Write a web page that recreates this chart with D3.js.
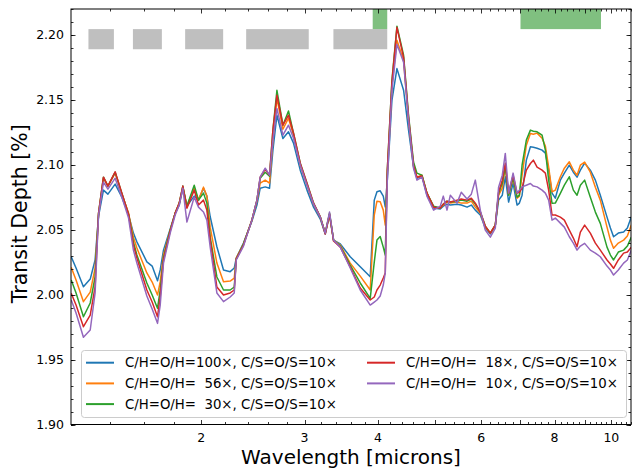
<!DOCTYPE html>
<html lang="en">
<head>
<meta charset="utf-8">
<title>Transit depth spectra</title>
<script src="https://d3js.org/d3.v7.min.js"></script>
<style type="text/css">
    body { margin: 0; background: #fff; }
    text { font-family: "DejaVu Sans", sans-serif; fill: #000; }
</style>
</head>
<body>
<script type="text/javascript">
// wavelength grid (microns), shared by all five models
var wavelength = [1.201,1.224,1.260,1.294,1.319,1.337,1.363,1.387,1.427,1.465,
    1.504,1.533,1.554,1.616,1.650,1.685,1.703,1.725,1.771,1.806,
    1.835,1.861,1.891,1.946,1.979,2.018,2.045,2.072,2.127,2.183,
    2.241,2.277,2.295,2.361,2.440,2.489,2.521,2.571,2.615,2.650,
    2.692,2.756,2.817,2.873,2.950,3.029,3.108,3.191,3.254,3.309,
    3.362,3.452,3.589,3.733,3.882,3.944,3.986,4.037,4.086,4.118,
    4.151,4.227,4.311,4.425,4.512,4.601,4.663,4.756,4.850,4.978,
    5.110,5.171,5.247,5.316,5.457,5.549,5.676,5.772,5.863,5.979,
    6.097,6.219,6.342,6.424,6.518,6.595,6.682,6.800,6.907,6.970,
    7.044,7.163,7.278,7.363,7.471,7.619,7.718,7.818,7.923,8.025,
    8.185,8.315,8.478,8.614,8.739,8.854,9.004,9.207,9.391,9.575,
    9.830,9.962,10.086,10.276,10.491,10.647,10.815];

// transit depth (%) for each metallicity
var depth100 = [2.0292,2.0205,2.0061,2.0120,2.0267,2.0605,2.0805,2.0774,2.0851,2.0751,
    2.0613,2.0474,2.0407,2.0253,2.0220,2.0107,2.0190,2.0343,2.0505,2.0628,
    2.0690,2.0820,2.0682,2.0759,2.0728,2.0820,2.0759,2.0600,2.0369,2.0190,
    2.0177,2.0205,2.0282,2.0397,2.0566,2.0690,2.0820,2.0830,2.0820,2.1113,
    2.1382,2.1203,2.1254,2.1167,2.0959,2.0805,2.0674,2.0582,2.0467,2.0613,
    2.0420,2.0390,2.0292,2.0215,2.0138,2.0728,2.0792,2.0800,2.0759,2.0676,
    2.0882,2.1497,2.1741,2.1574,2.1267,2.0982,2.0897,2.0913,2.0766,2.0667,
    2.0659,2.0682,2.0697,2.0690,2.0697,2.0690,2.0674,2.0690,2.0651,2.0613,
    2.0513,2.0467,2.0536,2.0728,2.0766,2.0908,2.0713,2.0859,2.0690,2.0705,
    2.0766,2.1036,2.1139,2.1136,2.1128,2.1113,2.1090,2.0959,2.0782,2.0743,
    2.0882,2.0936,2.0997,2.0943,2.0905,2.0959,2.1013,2.0959,2.0882,2.0766,
    2.0597,2.0513,2.0446,2.0474,2.0482,2.0513,2.0600];
var depth56 = [2.0210,2.0113,1.9946,2.0020,2.0205,2.0620,2.0897,2.0836,2.0936,2.0774,
    2.0628,2.0443,2.0359,2.0167,2.0097,1.9997,2.0100,2.0305,2.0497,2.0628,
    2.0705,2.0828,2.0682,2.0820,2.0728,2.0828,2.0759,2.0520,2.0243,2.0100,
    2.0105,2.0128,2.0282,2.0390,2.0574,2.0720,2.0859,2.0882,2.0859,2.1190,
    2.1513,2.1274,2.1359,2.1228,2.0997,2.0843,2.0697,2.0597,2.0474,2.0620,
    2.0420,2.0382,2.0243,2.0143,2.0036,2.0613,2.0720,2.0715,2.0651,2.0536,
    2.0920,2.1605,2.1959,2.1805,2.1344,2.0990,2.0905,2.0920,2.0782,2.0674,
    2.0667,2.0690,2.0713,2.0705,2.0713,2.0705,2.0705,2.0720,2.0674,2.0628,
    2.0520,2.0474,2.0536,2.0766,2.0820,2.0990,2.0766,2.0897,2.0743,2.0759,
    2.0920,2.1151,2.1241,2.1236,2.1244,2.1205,2.1144,2.0982,2.0792,2.0805,
    2.0908,2.0974,2.1023,2.0959,2.0920,2.0997,2.1021,2.0943,2.0828,2.0728,
    2.0520,2.0420,2.0357,2.0397,2.0420,2.0451,2.0536];
var depth30 = [2.0113,2.0013,1.9830,1.9936,2.0136,2.0628,2.0905,2.0836,2.0943,2.0782,
    2.0620,2.0405,2.0305,2.0090,1.9997,1.9895,2.0036,2.0282,2.0497,2.0628,
    2.0705,2.0836,2.0682,2.0843,2.0728,2.0782,2.0705,2.0443,2.0136,2.0036,
    2.0036,2.0059,2.0274,2.0390,2.0574,2.0728,2.0897,2.0943,2.0912,2.1267,
    2.1574,2.1305,2.1415,2.1244,2.1013,2.0859,2.0705,2.0600,2.0474,2.0628,
    2.0420,2.0374,2.0228,2.0090,1.9972,2.0251,2.0420,2.0448,2.0366,2.0305,
    2.0959,2.1651,2.2067,2.1844,2.1382,2.1021,2.0936,2.0920,2.0782,2.0682,
    2.0667,2.0697,2.0720,2.0713,2.0720,2.0728,2.0720,2.0736,2.0697,2.0636,
    2.0528,2.0474,2.0536,2.0782,2.0859,2.0990,2.0766,2.0905,2.0751,2.0766,
    2.0997,2.1190,2.1267,2.1259,2.1254,2.1228,2.1113,2.0882,2.0703,2.0705,
    2.0780,2.0843,2.0908,2.0805,2.0766,2.0843,2.0882,2.0751,2.0636,2.0549,
    2.0366,2.0305,2.0267,2.0328,2.0343,2.0374,2.0443];
var depth18 = [2.0010,1.9920,1.9753,1.9843,2.0059,2.0628,2.0905,2.0836,2.0946,2.0782,
    2.0620,2.0382,2.0282,2.0036,1.9943,1.9830,1.9985,2.0267,2.0490,2.0628,
    2.0705,2.0836,2.0666,2.0805,2.0690,2.0728,2.0651,2.0420,2.0059,1.9997,
    2.0013,2.0036,2.0274,2.0382,2.0574,2.0728,2.0905,2.0966,2.0920,2.1267,
    2.1536,2.1305,2.1382,2.1244,2.1013,2.0859,2.0705,2.0600,2.0467,2.0620,
    2.0413,2.0366,2.0213,2.0051,1.9959,1.9982,2.0036,2.0074,2.0128,2.0167,
    2.0959,2.1636,2.2059,2.1828,2.1367,2.0997,2.0905,2.0913,2.0782,2.0674,
    2.0667,2.0697,2.0720,2.0713,2.0728,2.0736,2.0728,2.0743,2.0705,2.0636,
    2.0528,2.0474,2.0536,2.0789,2.0882,2.1013,2.0782,2.0920,2.0782,2.0789,
    2.0820,2.0959,2.1010,2.1036,2.0982,2.0959,2.0936,2.0805,2.0613,2.0613,
    2.0597,2.0574,2.0497,2.0436,2.0369,2.0482,2.0536,2.0474,2.0397,2.0343,
    2.0267,2.0236,2.0203,2.0267,2.0320,2.0328,2.0366];
var depth10 = [1.9959,1.9859,1.9672,1.9728,2.0013,2.0613,2.0866,2.0813,2.0897,2.0751,
    2.0590,2.0343,2.0243,1.9990,1.9890,1.9779,1.9920,2.0243,2.0474,2.0613,
    2.0690,2.0820,2.0559,2.0751,2.0674,2.0636,2.0574,2.0366,2.0013,1.9946,
    1.9982,2.0013,2.0267,2.0374,2.0574,2.0728,2.0905,2.0974,2.0920,2.1190,
    2.1434,2.1228,2.1305,2.1205,2.0997,2.0843,2.0697,2.0597,2.0474,2.0636,
    2.0420,2.0366,2.0205,2.0036,1.9920,1.9943,1.9959,1.9990,2.0074,2.0167,
    2.0882,2.1574,2.1928,2.1790,2.1344,2.0974,2.0882,2.0905,2.0759,2.0651,
    2.0682,2.0759,2.0651,2.0766,2.0705,2.0789,2.0736,2.0774,2.0882,2.0651,
    2.0497,2.0443,2.0513,2.0828,2.0920,2.1088,2.0782,2.0936,2.0782,2.0805,
    2.0830,2.0843,2.0856,2.0836,2.0830,2.0805,2.0782,2.0728,2.0574,2.0590,
    2.0551,2.0520,2.0446,2.0397,2.0343,2.0374,2.0395,2.0343,2.0320,2.0292,
    2.0220,2.0190,2.0151,2.0190,2.0243,2.0267,2.0343];

var seriesLabels = ["C/H=O/H=100\u00d7, C/S=O/S=10\u00d7",
                    "C/H=O/H=  56\u00d7, C/S=O/S=10\u00d7",
                    "C/H=O/H=  30\u00d7, C/S=O/S=10\u00d7",
                    "C/H=O/H=  18\u00d7, C/S=O/S=10\u00d7",
                    "C/H=O/H=  10\u00d7, C/S=O/S=10\u00d7"];
var seriesColors = ["#1f77b4", "#ff7f0e", "#2ca02c", "#d62728", "#9467bd"];
var seriesValues = [depth100, depth56, depth30, depth18, depth10];

// instrument coverage bands (microns)
var grayBands = [[1.285, 1.42], [1.53, 1.714], [1.878, 2.18], [2.386, 3.05], [3.36, 4.15]];
var grayDepth = [2.189, 2.2045];
var greenBands = [[3.92, 4.15], [7.0, 9.6]];
var greenDepth = [2.2045, 2.22];

var xTickLabels = [2, 3, 4, 6, 8, 10];
var yTickLabels = [1.90, 1.95, 2.00, 2.05, 2.10, 2.15, 2.20];

// size and plot box (note: "top" is reserved on window, so prefix them)
var w = 632, h = 468;
var pLeft = 71, pRight = 631, pTop = 9, pBottom = 424.5;

var x = d3.scaleLog().domain([1.2, 10.8]).range([pLeft, pRight]);
var y = d3.scaleLinear().domain([1.90, 2.22]).range([pBottom, pTop]);

var svg = d3.select("body").append("svg")
    .attr("width", w)
    .attr("height", h);

svg.append("clipPath").attr("id", "plotclip")
  .append("rect")
    .attr("x", pLeft).attr("y", pTop)
    .attr("width", pRight - pLeft).attr("height", pBottom - pTop);

// bands at the top
svg.append("g").selectAll("rect")
    .data(grayBands)
    .enter().append("rect")
    .attr("x", function(d) { return x(d[0]); })
    .attr("width", function(d) { return x(d[1]) - x(d[0]); })
    .attr("y", y(grayDepth[1]))
    .attr("height", y(grayDepth[0]) - y(grayDepth[1]))
    .style("fill", "#bfbfbf");

svg.append("g").selectAll("rect")
    .data(greenBands)
    .enter().append("rect")
    .attr("x", function(d) { return x(d[0]); })
    .attr("width", function(d) { return x(d[1]) - x(d[0]); })
    .attr("y", y(greenDepth[1]))
    .attr("height", y(greenDepth[0]) - y(greenDepth[1]))
    .style("fill", "#80c080");

// the five spectra
var line = d3.line()
    .x(function(d, i) { return x(wavelength[i]); })
    .y(function(d) { return y(d); });

svg.append("g").attr("clip-path", "url(#plotclip)")
  .selectAll("path")
    .data(seriesValues)
    .enter().append("path")
    .attr("d", line)
    .style("fill", "none")
    .style("stroke", function(d, i) { return seriesColors[i]; })
    .style("stroke-width", 1.5)
    .style("stroke-linejoin", "round");

// ticks, pointing inwards on all four sides
var xMajor = d3.range(2, 11);
var xMinor = d3.range(1.4, 10.81, 0.2).filter(function(v) {
    return Math.abs(v - Math.round(v)) > 0.01;
});
var yMajor = yTickLabels;
var yMinor = d3.range(1.90, 2.221, 0.01);

var ticks = svg.append("g").style("stroke", "#000").style("stroke-width", 0.8);
function addX(vals, len) {
    vals.forEach(function(v) {
        var px = Math.round(x(v)) + 0.5;
        ticks.append("line").attr("x1", px).attr("x2", px).attr("y1", pBottom).attr("y2", pBottom - len);
        ticks.append("line").attr("x1", px).attr("x2", px).attr("y1", pTop).attr("y2", pTop + len);
    });
}
function addY(vals, len) {
    vals.forEach(function(v) {
        var py = Math.round(y(v)) + 0.5;
        ticks.append("line").attr("y1", py).attr("y2", py).attr("x1", pLeft).attr("x2", pLeft + len);
        ticks.append("line").attr("y1", py).attr("y2", py).attr("x1", pRight).attr("x2", pRight - len);
    });
}
addX(xMajor, 4.5);
addX(xMinor, 2.5);
addY(yMajor, 4.5);
addY(yMinor, 2.5);

// frame
svg.append("rect")
    .attr("x", pLeft).attr("y", pTop)
    .attr("width", pRight - pLeft).attr("height", pBottom - pTop)
    .style("fill", "none").style("stroke", "#000").style("stroke-width", 1);

// tick labels
svg.append("g").selectAll("text")
    .data(xTickLabels)
    .enter().append("text")
    .attr("x", function(d) { return x(d); })
    .attr("y", 441.5)
    .attr("text-anchor", "middle")
    .style("font-size", "12.5px")
    .text(function(d) { return d; });

svg.append("g").selectAll("text")
    .data(yTickLabels)
    .enter().append("text")
    .attr("x", 64)
    .attr("y", function(d) { return y(d) + 4.5; })
    .attr("text-anchor", "end")
    .style("font-size", "12.5px")
    .text(function(d) { return d.toFixed(2); });

// axis titles
svg.append("text")
    .attr("x", (pLeft + pRight) / 2)
    .attr("y", 464)
    .attr("text-anchor", "middle")
    .style("font-size", "20px")
    .text("Wavelength [microns]");

svg.append("text")
    .attr("transform", "translate(26.5," + ((pTop + pBottom) / 2 - 3) + ") rotate(-90)")
    .attr("text-anchor", "middle")
    .style("font-size", "20.5px")
    .text("Transit Depth [%]");

// legend, two columns
var lg = svg.append("g");
lg.append("rect")
    .attr("x", 81.5).attr("y", 350.5)
    .attr("width", 545).attr("height", 67)
    .attr("rx", 3)
    .style("fill", "#fff").style("fill-opacity", 0.8)
    .style("stroke", "#cccccc").style("stroke-width", 1);

seriesLabels.forEach(function(label, i) {
    var col = i < 3 ? 0 : 1;
    var row = i < 3 ? i : i - 3;
    var lx = col === 0 ? 86 : 367;
    var ly = 362.7 + row * 20.7;
    lg.append("line")
        .attr("x1", lx).attr("x2", lx + 28)
        .attr("y1", ly).attr("y2", ly)
        .style("stroke", seriesColors[i]).style("stroke-width", 2);
    lg.append("text")
        .attr("x", lx + 39)
        .attr("y", ly + 4.7)
        .attr("xml:space", "preserve")
        .style("white-space", "pre")
        .style("font-size", "13.3px")
        .text(label);
});
</script>
</body>
</html>
